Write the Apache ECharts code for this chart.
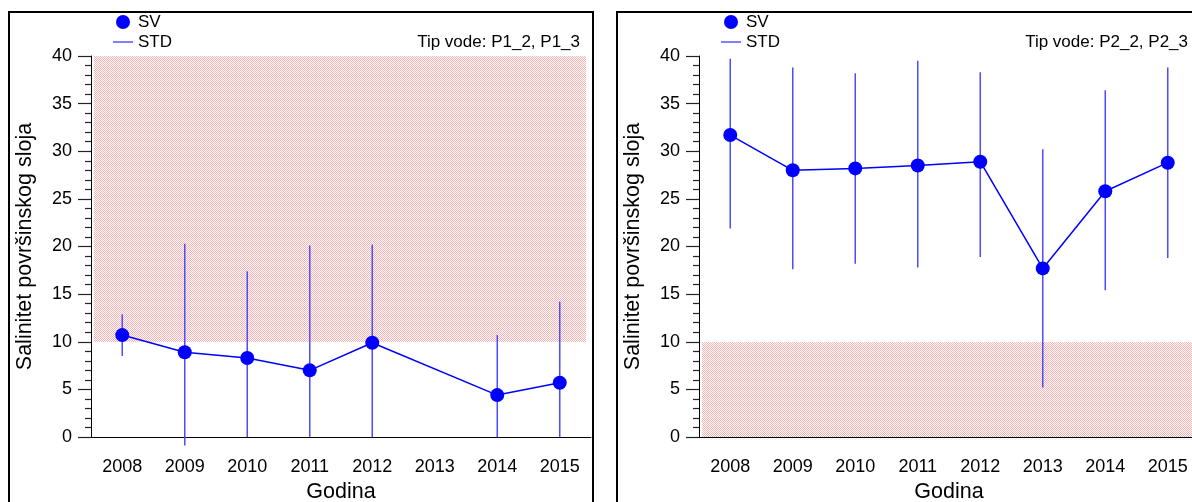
<!DOCTYPE html>
<html>
<head>
<meta charset="utf-8">
<script src="https://cdn.jsdelivr.net/npm/echarts@6/dist/echarts.min.js"></script>
<style>
  html, body { margin: 0; padding: 0; background: #fff; }
  #chart { width: 1192px; height: 502px; }
</style>
</head>
<body>
<div id="chart"></div>
<script>
// Years on the category axis
const years = ['2008', '2009', '2010', '2011', '2012', '2013', '2014', '2015'];

// Water type P1_2, P1_3: mean (SV) and the ends of the STD bar
const svLeft   = [10.7, 8.9, 8.3, 7.0, 9.9, null, 4.4, 5.7];
const lowLeft  = [8.5, -0.9, 0, 0, 0, null, 0, 0];
const highLeft = [12.9, 20.3, 17.4, 20.1, 20.2, null, 10.7, 14.2];

// Water type P2_2, P2_3
const svRight   = [31.7, 28.0, 28.2, 28.5, 28.9, 17.7, 25.8, 28.8];
const lowRight  = [21.9, 17.6, 18.2, 17.8, 18.9, 5.2, 15.4, 18.8];
const highRight = [39.7, 38.8, 38.2, 39.5, 38.3, 30.2, 36.4, 38.8];

// Salinity bands outside the reference range for each water type
const bandLeft  = [10, 40];
const bandRight = [0, 10];

// Y axis scale
const yMin = 0, yMax = 40, yStep = 5;

const titles = ['Tip vode: P1_2, P1_3', 'Tip vode: P2_2, P2_3'];

const FONT = 'Liberation Sans, Arial, Helvetica, sans-serif';
const BLUE = '#0000ff';
const BAR_BLUE = '#4d4dff';

// Dotted red fill for the bands
function dotPattern() {
  const c = document.createElement('canvas');
  c.width = 2; c.height = 2;
  const g = c.getContext('2d');
  g.fillStyle = '#ffffff';
  g.fillRect(0, 0, 2, 2);
  g.fillStyle = '#ffb0b0';
  g.fillRect(0, 0, 1, 1);
  g.fillRect(1, 1, 1, 1);
  return c;
}
const pattern = { image: dotPattern(), repeat: 'repeat' };

const chart = echarts.init(document.getElementById('chart'), null, { renderer: 'canvas' });

// Horizontal placement of each panel
const panelShift = 608;

const grids = [], xAxes = [], yAxes = [], series = [], legends = [], graphics = [];

function addPanel(i, sv, low, high, band) {
  const dx = i * panelShift;
  grids.push({ left: 91 + dx, top: 56, width: 500, height: 381, outerBoundsMode: 'none', containLabel: false });

  xAxes.push({
    type: 'category', gridIndex: i, data: years, boundaryGap: true,
    axisLine: { lineStyle: { color: '#000', width: 1 } },
    axisTick: { alignWithLabel: true, length: 13, lineStyle: { color: '#222', width: 1.2 } },
    axisLabel: { interval: 0, color: '#000', fontSize: 18, fontFamily: FONT, margin: 21 },
    splitLine: { show: false },
    name: 'Godina', nameLocation: 'middle', nameGap: 44,
    nameTextStyle: { color: '#000', fontSize: 21.5, fontFamily: FONT }
  });

  yAxes.push({
    type: 'value', gridIndex: i, min: yMin, max: yMax, interval: yStep,
    axisLine: { show: true, lineStyle: { color: '#000', width: 1 } },
    axisTick: { show: true, length: 13, lineStyle: { color: '#222', width: 1.2 } },
    minorTick: { show: true, splitNumber: 5, length: 6, lineStyle: { color: '#222', width: 1.2 } },
    splitLine: { show: false },
    axisLabel: { color: '#000', fontSize: 18, fontFamily: FONT, margin: 19 },
    name: 'Salinitet površinskog sloja', nameLocation: 'middle', nameGap: 55,
    nameTextStyle: { color: '#000', fontSize: 21.5, fontFamily: FONT }
  });

  // Shaded band
  series.push({
    type: 'custom', xAxisIndex: i, yAxisIndex: i, silent: true, z: 1,
    encode: { x: 0, y: [1, 2] },
    data: [[0, band[0], band[1]]],
    renderItem(params, api) {
      const cs = params.coordSys;
      const yTop = Math.round(api.coord([0, api.value(2)])[1]);
      const yBot = Math.round(api.coord([0, api.value(1)])[1]);
      return {
        type: 'rect',
        shape: { x: Math.round(cs.x) + 3, y: yTop, width: Math.round(cs.width) - 8, height: yBot - yTop },
        style: { fill: pattern }
      };
    }
  });

  // STD bars
  const barData = [];
  years.forEach((y, k) => {
    if (sv[k] != null) barData.push([k, low[k], high[k]]);
  });
  series.push({
    name: 'STD', type: 'custom', xAxisIndex: i, yAxisIndex: i, z: 2, clip: false,
    itemStyle: { color: BLUE },
    encode: { x: 0, y: [1, 2] },
    data: barData,
    renderItem(params, api) {
      const p1 = api.coord([api.value(0), api.value(1)]);
      const p2 = api.coord([api.value(0), api.value(2)]);
      return {
        type: 'line',
        shape: { x1: p1[0], y1: p1[1], x2: p2[0], y2: p2[1] },
        style: { stroke: BAR_BLUE, lineWidth: 1.5 }
      };
    }
  });

  // Mean values
  series.push({
    name: 'SV', type: 'line', xAxisIndex: i, yAxisIndex: i, z: 3,
    data: sv, connectNulls: true,
    symbol: 'circle', symbolSize: 14,
    lineStyle: { color: BLUE, width: 1.5 },
    itemStyle: { color: BLUE },
    emphasis: { disabled: true }
  });

  legends.push({
    left: 113 + dx, top: 12, orient: 'vertical', padding: 0,
    itemWidth: 20, itemHeight: 14, itemGap: 0,
    selectedMode: false,
    textStyle: { color: '#000', fontSize: 17, fontFamily: FONT, lineHeight: 20 },
    data: [
      { name: 'SV', icon: 'circle', itemStyle: { color: BLUE } },
      { name: 'STD', icon: 'path://M0,0H20V1H0Z', itemStyle: { color: BLUE } }
    ]
  });

  graphics.push({
    type: 'rect', z: 10,
    shape: { x: 9 + dx, y: 12, width: 584, height: 540 },
    style: { fill: 'none', stroke: '#000', lineWidth: 2 }
  });
  graphics.push({
    type: 'text', z: 10, x: 580 + dx, y: 42,
    style: {
      text: titles[i], align: 'right', verticalAlign: 'middle',
      fontSize: 17, fontFamily: FONT, fill: '#000'
    }
  });
}

addPanel(0, svLeft, lowLeft, highLeft, bandLeft);
addPanel(1, svRight, lowRight, highRight, bandRight);

chart.setOption({
  animation: false,
  backgroundColor: '#fff',
  grid: grids,
  xAxis: xAxes,
  yAxis: yAxes,
  legend: legends,
  series: series,
  graphic: graphics
});
</script>
</body>
</html>
